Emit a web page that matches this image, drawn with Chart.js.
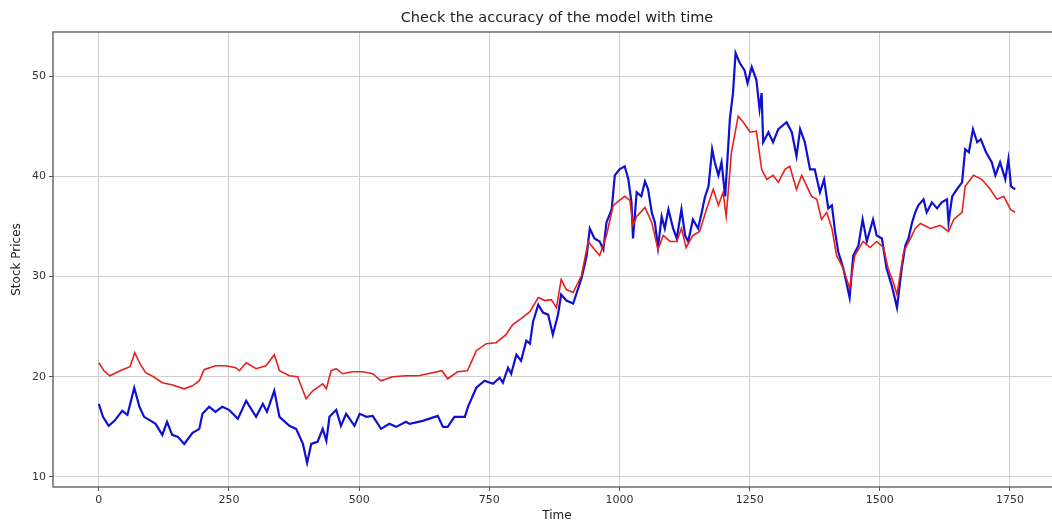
<!DOCTYPE html>
<html>
<head>
<meta charset="utf-8">
<script src="https://cdn.jsdelivr.net/npm/chart.js@4.4.1/dist/chart.umd.min.js"></script>
<style>
html, body { margin: 0; padding: 0; background: #ffffff; overflow: hidden; }
canvas { display: block; }
</style>
</head>
<body>
<canvas id="c" width="1062" height="524"></canvas>
<script>
// ---- data ----
const chartTitle = "Check the accuracy of the model with time";
const xAxisLabel = "Time";
const yAxisLabel = "Stock Prices";

const xTickValues = [0, 250, 500, 750, 1000, 1250, 1500, 1750];
const yTickValues = [10, 20, 30, 40, 50];

const actualTime = [0,8,19,30,45,55,68,78,87,100,109,122,131,141,152,164,180,193,199,212,224,237,250,267,283,302,315,323,337,347,366,379,392,400,408,420,430,437,443,456,465,475,491,501,514,526,542,558,571,590,597,622,651,661,670,683,703,709,725,741,757,770,776,786,792,802,811,821,828,834,844,853,863,872,882,888,898,911,927,937,943,952,962,969,975,985,991,1000,1010,1017,1023,1026,1033,1042,1049,1055,1062,1068,1074,1081,1087,1094,1103,1110,1119,1126,1132,1141,1151,1158,1164,1171,1178,1183,1190,1196,1203,1212,1218,1223,1231,1240,1246,1254,1263,1269,1273,1276,1286,1295,1305,1321,1331,1340,1347,1356,1366,1375,1385,1393,1401,1408,1414,1420,1430,1442,1449,1459,1467,1475,1487,1494,1504,1513,1523,1533,1542,1549,1555,1562,1568,1574,1584,1590,1600,1610,1619,1629,1632,1639,1648,1658,1664,1671,1679,1687,1694,1704,1715,1722,1731,1741,1747,1752,1760];
const actualPrice = [17.3,16.0,15.1,15.6,16.6,16.2,18.9,17.0,16.0,15.6,15.3,14.2,15.5,14.2,14.0,13.3,14.4,14.8,16.3,17.0,16.5,17.0,16.7,15.8,17.6,16.0,17.3,16.5,18.6,16.0,15.1,14.8,13.3,11.4,13.3,13.5,14.8,13.6,16.0,16.7,15.1,16.3,15.1,16.3,16.0,16.1,14.8,15.3,15.0,15.5,15.3,15.6,16.1,15.0,15.0,16.0,16.0,17.0,18.9,19.6,19.3,19.9,19.4,20.9,20.3,22.2,21.6,23.6,23.3,25.5,27.2,26.4,26.2,24.2,26.2,28.2,27.6,27.3,29.8,32.1,34.8,33.8,33.5,32.7,35.4,36.7,40.1,40.7,41.0,39.7,37.4,33.8,38.4,38.0,39.5,38.7,36.4,35.4,32.9,36.0,34.8,36.7,34.8,33.8,36.7,34.1,33.5,35.7,34.8,36.4,37.9,39.0,42.7,41.4,40.1,41.4,38.0,45.7,48.3,52.3,51.3,50.6,49.3,50.9,49.6,46.7,48.3,43.4,44.4,43.4,44.7,45.4,44.4,42.0,44.7,43.4,40.7,40.7,38.4,39.7,36.8,37.1,34.5,32.5,30.8,27.9,32.1,33.1,35.7,33.5,35.7,34.1,33.8,30.8,29.1,26.9,30.8,33.1,33.8,35.4,36.4,37.1,37.7,36.4,37.4,36.8,37.4,37.7,35.4,38.0,38.7,39.4,42.7,42.4,44.7,43.4,43.7,42.4,41.4,40.1,41.4,39.7,41.7,39.0,38.7];

const predictedTime = [0,10,21,45,60,69,80,90,105,122,140,164,180,193,202,224,244,263,270,283,302,321,337,347,366,382,398,411,430,437,446,456,468,487,507,526,542,564,590,614,659,670,689,708,725,744,763,782,795,811,828,844,857,869,879,888,898,911,927,940,952,962,975,988,1000,1010,1020,1026,1033,1049,1062,1074,1084,1097,1110,1119,1128,1141,1154,1167,1180,1190,1199,1205,1215,1228,1238,1251,1263,1273,1283,1295,1305,1318,1327,1340,1350,1360,1369,1379,1388,1398,1408,1417,1430,1442,1452,1468,1481,1494,1507,1516,1526,1533,1546,1559,1568,1578,1597,1616,1632,1642,1658,1664,1680,1696,1712,1725,1738,1751,1760];
const predictedPrice = [21.4,20.6,20.1,20.7,21.0,22.4,21.2,20.4,20.0,19.4,19.2,18.8,19.1,19.6,20.7,21.1,21.1,20.9,20.6,21.4,20.8,21.1,22.2,20.6,20.1,20.0,17.8,18.6,19.3,18.8,20.6,20.8,20.3,20.5,20.5,20.3,19.6,20.0,20.1,20.1,20.6,19.8,20.5,20.6,22.6,23.3,23.4,24.2,25.2,25.8,26.5,27.9,27.6,27.7,26.9,29.7,28.7,28.4,30.1,33.5,32.7,32.1,34.1,37.1,37.6,38.0,37.6,35.1,36.0,36.9,35.4,32.7,34.1,33.5,33.5,34.8,32.9,34.1,34.5,36.7,38.7,37.1,38.4,36.0,42.4,46.0,45.4,44.4,44.5,40.7,39.7,40.1,39.4,40.7,41.0,38.7,40.1,39.0,38.0,37.7,35.7,36.4,34.8,32.1,30.8,28.8,32.1,33.5,32.9,33.5,32.9,30.8,29.4,28.2,32.5,33.8,34.8,35.3,34.8,35.1,34.5,35.7,36.4,39.0,40.1,39.7,38.7,37.7,38.0,36.7,36.4];

// ---- build library data from the arrays ----
const toPoints = (xs, ys) => xs.map((x, i) => ({ x: x, y: ys[i] }));

const framePlugin = {
  id: 'frame',
  afterDatasetsDraw(chart) {
    const a = chart.chartArea, ctx = chart.ctx;
    ctx.save();
    ctx.strokeStyle = '#555555';
    ctx.lineWidth = 1.3;
    ctx.strokeRect(a.left, a.top, a.right - a.left, a.bottom - a.top);
    ctx.restore();
  }
};

new Chart(document.getElementById('c'), {
  type: 'line',
  data: {
    datasets: [
      {
        label: 'Predicted',
        data: toPoints(predictedTime, predictedPrice),
        borderColor: '#e8201c',
        borderWidth: 1.6,
        pointRadius: 0,
        tension: 0,
        order: 0
      },
      {
        label: 'Actual',
        data: toPoints(actualTime, actualPrice),
        borderColor: '#1010d0',
        borderWidth: 2.2,
        pointRadius: 0,
        tension: 0,
        order: 1
      }
    ]
  },
  options: {
    responsive: false,
    devicePixelRatio: 1,
    animation: false,
    layout: { padding: { left: 0, right: 1, top: 0, bottom: 0 } },
    plugins: {
      legend: { display: false },
      tooltip: { enabled: false },
      title: {
        display: true,
        fullSize: false,
        text: chartTitle,
        color: '#222222',
        font: { family: 'DejaVu Sans', size: 14.5, weight: 'normal' },
        padding: { top: 10, bottom: 4.6 }
      }
    },
    scales: {
      x: {
        type: 'linear',
        min: -88,
        max: 1848,
        afterBuildTicks: (s) => { s.ticks = xTickValues.map(v => ({ value: v })); },
        afterFit: (s) => { s.height = 37; },
        grid: { color: '#cfcfcf', lineWidth: 1, tickLength: 4, tickColor: '#555555', drawTicks: true },
        border: { display: false },
        ticks: {
          color: '#333333',
          font: { family: 'DejaVu Sans', size: 11 },
          padding: 3,
          maxRotation: 0,
          autoSkip: false,
          callback: (v) => String(v)
        },
        title: {
          display: true,
          text: xAxisLabel,
          color: '#222222',
          font: { family: 'DejaVu Sans', size: 12 },
          padding: { top: 0, bottom: 1 }
        }
      },
      y: {
        type: 'linear',
        min: 9.0,
        max: 54.4,
        afterBuildTicks: (s) => { s.ticks = yTickValues.map(v => ({ value: v })); },
        afterFit: (s) => { s.width = 53; },
        grid: { color: '#cfcfcf', lineWidth: 1, tickLength: 4, tickColor: '#555555', drawTicks: true },
        border: { display: false },
        ticks: {
          color: '#333333',
          font: { family: 'DejaVu Sans', size: 11 },
          padding: 3,
          callback: (v) => String(v)
        },
        title: {
          display: true,
          text: yAxisLabel,
          color: '#222222',
          font: { family: 'DejaVu Sans', size: 12 },
          padding: { top: 10, bottom: 0 }
        }
      }
    }
  },
  plugins: [framePlugin]
});
</script>
</body>
</html>
